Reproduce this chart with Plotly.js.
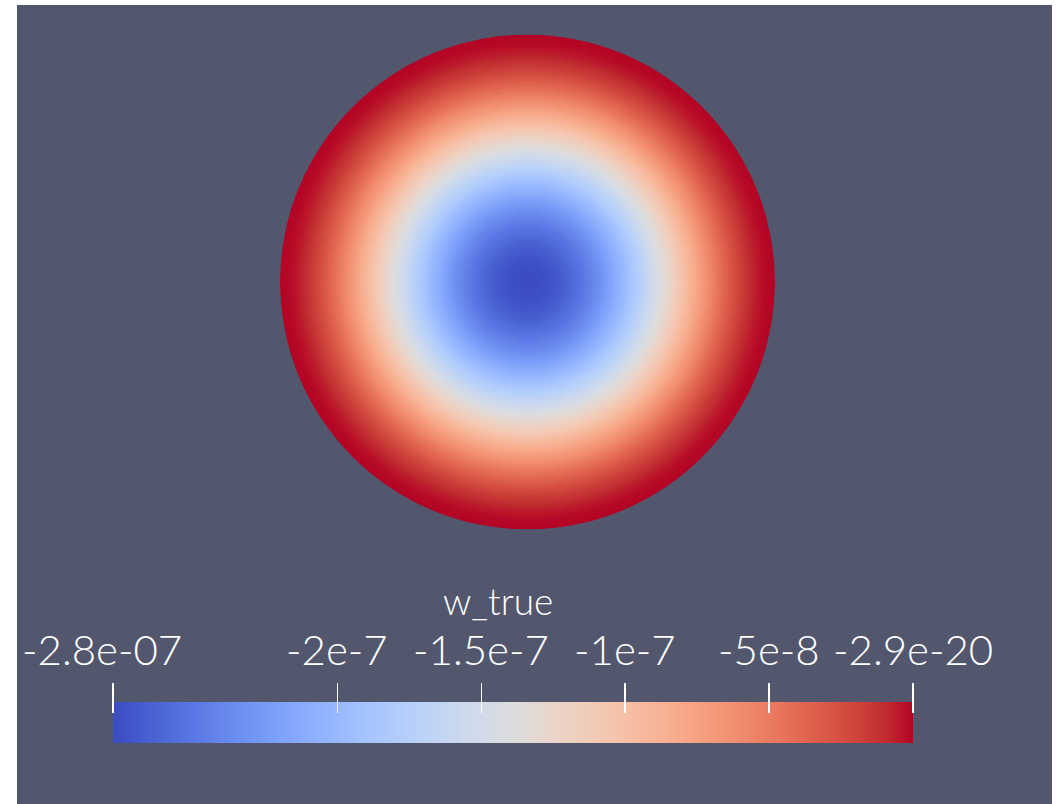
<!DOCTYPE html>
<html><head><meta charset="utf-8">
<script src="https://cdn.plot.ly/plotly-3.0.1.min.js"></script>
<style>html,body{margin:0;padding:0;background:#fff}#chart{width:1064px;height:804px}</style>
</head><body><div id="chart"></div>
<script>
// Radial profile of w_true (ring outer radius, normalised to disk radius)
const ringOuterRadius = [0.0125,0.025,0.0375,0.05,0.0625,0.075,0.0875,0.1,0.1125,0.125,
  0.1375,0.15,0.1625,0.175,0.1875,0.2,0.2125,0.225,0.2375,0.25,
  0.2625,0.275,0.2875,0.3,0.3125,0.325,0.3375,0.35,0.3625,0.375,
  0.3875,0.4,0.4125,0.425,0.4375,0.45,0.4625,0.475,0.4875,0.5,
  0.5125,0.525,0.5375,0.55,0.5625,0.575,0.5875,0.6,0.6125,0.625,
  0.6375,0.65,0.6625,0.675,0.6875,0.7,0.7125,0.725,0.7375,0.75,
  0.7625,0.775,0.7875,0.8,0.8125,0.825,0.8375,0.85,0.8625,0.875,
  0.8875,0.9,0.9125,0.925,0.9375,0.95,0.9625,0.975,0.9875,1.0];
const ringValue = [-2.7798e-7,-2.7780e-7,-2.7746e-7,-2.7694e-7,-2.7624e-7,-2.7538e-7,-2.7434e-7,-2.7313e-7,-2.7176e-7,-2.7021e-7,
  -2.6850e-7,-2.6663e-7,-2.6459e-7,-2.6239e-7,-2.6003e-7,-2.5752e-7,-2.5485e-7,-2.5203e-7,-2.4906e-7,-2.4595e-7,
  -2.4269e-7,-2.3929e-7,-2.3576e-7,-2.3209e-7,-2.2830e-7,-2.2438e-7,-2.2034e-7,-2.1618e-7,-2.1191e-7,-2.0754e-7,
  -2.0306e-7,-1.9848e-7,-1.9381e-7,-1.8905e-7,-1.8421e-7,-1.7930e-7,-1.7431e-7,-1.6925e-7,-1.6414e-7,-1.5898e-7,
  -1.5376e-7,-1.4851e-7,-1.4322e-7,-1.3791e-7,-1.3258e-7,-1.2724e-7,-1.2189e-7,-1.1654e-7,-1.1120e-7,-1.0588e-7,
  -1.0059e-7,-9.533e-8,-9.011e-8,-8.495e-8,-7.984e-8,-7.480e-8,-6.984e-8,-6.496e-8,-6.018e-8,-5.551e-8,
  -5.095e-8,-4.651e-8,-4.221e-8,-3.805e-8,-3.405e-8,-3.021e-8,-2.655e-8,-2.307e-8,-1.979e-8,-1.672e-8,
  -1.387e-8,-1.126e-8,-8.88e-9,-6.76e-9,-4.90e-9,-3.32e-9,-2.04e-9,-1.05e-9,-3.8e-10,-4e-11];

const colorbarTitle = 'w_true';
const colorbarRange = [-2.78e-7, -2.9e-20];
const tickValues = [-2.78e-7, -2e-7, -1.5e-7, -1e-7, -5e-8, -2.9e-20];
const tickLabels = ['-2.8e-07', '-2e-7', '-1.5e-7', '-1e-7', '-5e-8', '-2.9e-20'];

// ParaView "Cool to Warm"
const coolToWarmRGB = [[59,76,192],[68,90,204],[77,104,215],[87,117,225],[98,130,234],[108,142,241],[119,154,247],[130,165,251],[141,176,254],[152,185,255],[163,194,255],[174,201,253],[184,208,249],[194,213,244],[204,217,238],[213,219,230],[221,221,221],[229,216,209],[236,211,197],[241,204,185],[245,196,173],[247,187,160],[247,177,148],[247,166,135],[244,154,123],[241,141,111],[236,127,99],[229,112,88],[222,96,77],[213,80,66],[203,62,56],[192,40,47],[180,4,38]];
const colorscale = coolToWarmRGB.map((c, i) => [i / (coolToWarmRGB.length - 1), 'rgb(' + c.join(',') + ')']);

const W = 1064, H = 804;
const outer = ringOuterRadius.slice().reverse();
const vals = ringValue.slice().reverse();

const disk = {
  type: 'barpolar',
  r: outer,
  base: outer.map(() => 0),
  theta: outer.map(() => 0),
  width: outer.map(() => 360),
  marker: {color: vals, coloraxis: 'coloraxis', line: {width: 0}},
  hoverinfo: 'skip'
};

const bar = {
  type: 'heatmap',
  x: colorbarRange,
  y: [0, 1],
  z: [colorbarRange, colorbarRange],
  zsmooth: 'best',
  coloraxis: 'coloraxis',
  xaxis: 'x2', yaxis: 'y2',
  hoverinfo: 'skip'
};

const fontFam = 'Lato, "Liberation Sans", sans-serif';
const annotations = tickValues.map((v, i) => ({
  x: v, xref: 'x2', y: (H - 649) / H, yref: 'paper',
  text: tickLabels[i], showarrow: false, xanchor: 'center', yanchor: 'middle',
  xshift: i === 0 ? -11 : 0,
  font: {family: fontFam, size: 42, weight: 300, color: '#ffffff'}
}));
annotations.push({
  x: 498 / W, xref: 'paper', y: (H - 600) / H, yref: 'paper',
  text: colorbarTitle, showarrow: false, xanchor: 'center', yanchor: 'middle',
  font: {family: fontFam, size: 37, weight: 300, color: '#ffffff'}
});

const layout = {
  width: W, height: H,
  margin: {l: 0, r: 0, t: 0, b: 0, pad: 0},
  paper_bgcolor: '#52576e',
  plot_bgcolor: 'rgba(0,0,0,0)',
  showlegend: false,
  coloraxis: {colorscale: colorscale, cmin: colorbarRange[0], cmax: colorbarRange[1], showscale: false},
  polar: {
    domain: {x: [280 / W, 775 / W], y: [(H - 529.5) / H, (H - 34.5) / H]},
    bgcolor: 'rgba(0,0,0,0)',
    barmode: 'overlay',
    hole: 0,
    radialaxis: {visible: false, range: [0, 1]},
    angularaxis: {visible: false}
  },
  xaxis2: {
    domain: [113 / W, 913 / W], range: colorbarRange, anchor: 'free', position: (H - 713) / H,
    side: 'top', ticks: 'outside', ticklen: 30, tickwidth: 1.5, tickcolor: '#ffffff',
    tickmode: 'array', tickvals: tickValues, ticktext: tickLabels, showticklabels: false,
    showgrid: false, zeroline: false, showline: false, layer: 'above traces', fixedrange: true
  },
  yaxis2: {domain: [(H - 743) / H, (H - 702) / H], range: [0, 1], anchor: 'x2', visible: false, fixedrange: true},
  annotations: annotations,
  shapes: [
    {type: 'rect', xref: 'paper', yref: 'paper', x0: 0, x1: 1, y0: (H - 5) / H, y1: 1, fillcolor: '#ffffff', line: {width: 0}},
    {type: 'rect', xref: 'paper', yref: 'paper', x0: 0, x1: 17 / W, y0: 0, y1: 1, fillcolor: '#ffffff', line: {width: 0}},
    {type: 'rect', xref: 'paper', yref: 'paper', x0: 1052 / W, x1: 1, y0: 0, y1: 1, fillcolor: '#ffffff', line: {width: 0}}
  ]
};

Plotly.newPlot('chart', [disk, bar], layout, {staticPlot: true, displayModeBar: false});
</script></body></html>
